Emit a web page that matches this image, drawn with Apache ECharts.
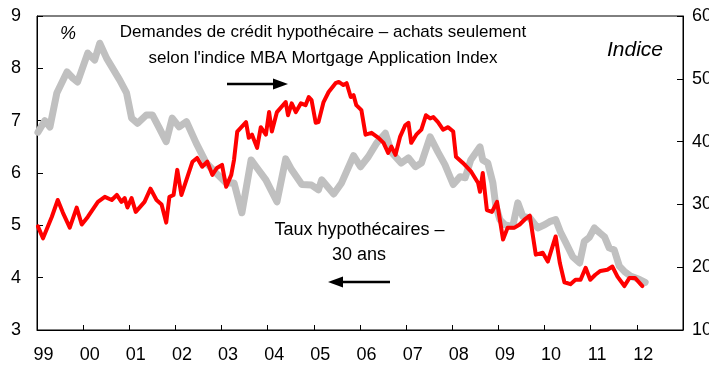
<!DOCTYPE html>
<html>
<head>
<meta charset="utf-8">
<script src="https://cdn.jsdelivr.net/npm/echarts@6/dist/echarts.min.js"></script>
<style>
  html, body { margin: 0; padding: 0; background: #fff; }
  #chart { width: 709px; height: 372px; }
</style>
</head>
<body>
<div id="chart"></div>
<script>
// 30-year mortgage rate (%), left axis — decimal years
const rateYears = [
  1999.02, 1999.17, 1999.28, 1999.43, 1999.65, 1999.78, 1999.88,
  2000.10, 2000.25, 2000.36, 2000.51, 2000.79, 2000.94,
  2001.05, 2001.18, 2001.37, 2001.50, 2001.65, 2001.80, 2001.93,
  2002.08, 2002.24, 2002.45, 2002.67, 2002.88,
  2003.10, 2003.27, 2003.44, 2003.64, 2003.75, 2003.96,
  2004.20, 2004.39, 2004.52, 2004.74, 2004.95,
  2005.10, 2005.17, 2005.43, 2005.60, 2005.86,
  2006.01, 2006.18, 2006.36, 2006.55, 2006.68, 2006.89,
  2007.05, 2007.20, 2007.33, 2007.52, 2007.69, 2007.84,
  2008.02, 2008.17, 2008.28, 2008.40, 2008.60, 2008.66, 2008.77, 2008.88, 2008.94,
  2009.03, 2009.14, 2009.31, 2009.42, 2009.53, 2009.68, 2009.85,
  2010.00, 2010.11, 2010.24, 2010.35, 2010.46, 2010.61, 2010.76, 2010.86, 2010.97,
  2011.08, 2011.19, 2011.30, 2011.40, 2011.51, 2011.62, 2011.73, 2011.86,
  2012.05, 2012.18
];
const rateValues = [
  6.78, 7.00, 6.88, 7.53, 7.93, 7.81, 7.74,
  8.29, 8.16, 8.48, 8.19, 7.78, 7.53,
  7.05, 6.95, 7.11, 7.11, 6.86, 6.60, 7.05,
  6.88, 6.98, 6.57, 6.19, 6.00,
  5.81, 5.81, 5.24, 6.25, 6.12, 5.87,
  5.45, 6.27, 6.06, 5.78, 5.77,
  5.68, 5.87, 5.60, 5.81, 6.33,
  6.12, 6.31, 6.57, 6.76, 6.40, 6.19,
  6.29, 6.12, 6.19, 6.69, 6.40, 6.16,
  5.78, 5.93, 5.91, 6.25, 6.50, 6.25, 6.19, 5.81, 5.39,
  5.11, 5.01, 4.98, 5.43, 5.17, 5.14, 4.95,
  5.01, 5.07, 5.11, 4.86, 4.67, 4.40, 4.28, 4.69, 4.77,
  4.95, 4.86, 4.78, 4.57, 4.53, 4.22, 4.12, 4.03,
  3.97, 3.91
];

// MBA purchase application index, right axis — decimal years
const indexYears = [
  1999.02, 1999.13, 1999.32, 1999.45, 1999.56, 1999.71, 1999.86, 1999.97,
  2000.10, 2000.32, 2000.47, 2000.62, 2000.73, 2000.83, 2000.90, 2000.96,
  2001.05, 2001.14, 2001.33, 2001.46, 2001.59, 2001.70, 2001.80, 2001.87, 2001.96,
  2002.04, 2002.13, 2002.26, 2002.37, 2002.47, 2002.58, 2002.69, 2002.80, 2002.90,
  2003.01, 2003.10, 2003.21, 2003.27, 2003.34, 2003.53, 2003.59, 2003.66, 2003.77, 2003.85, 2003.96,
  2004.03, 2004.09, 2004.20, 2004.39, 2004.44, 2004.52, 2004.61, 2004.72, 2004.82, 2004.89, 2004.95,
  2005.04, 2005.10, 2005.21, 2005.32, 2005.47, 2005.54, 2005.64, 2005.71, 2005.80, 2005.86, 2005.92,
  2006.03, 2006.12, 2006.25, 2006.40, 2006.51, 2006.61, 2006.68, 2006.77, 2006.87, 2006.98,
  2007.05, 2007.11, 2007.22, 2007.33, 2007.43, 2007.52, 2007.59, 2007.69, 2007.80, 2007.91,
  2008.02, 2008.08, 2008.23, 2008.41, 2008.56, 2008.60, 2008.66, 2008.75, 2008.86, 2008.97,
  2009.10, 2009.20, 2009.35, 2009.46, 2009.57, 2009.68, 2009.81, 2009.96,
  2010.07, 2010.24, 2010.33, 2010.43, 2010.56, 2010.67, 2010.78, 2010.89, 2010.99,
  2011.10, 2011.21, 2011.36, 2011.47, 2011.58, 2011.73, 2011.84, 2011.96,
  2012.12
];
const indexValues = [
  265, 246, 280, 307, 287, 263, 295, 268,
  280, 304, 312, 307, 315, 304, 310, 295,
  310, 288, 304, 325, 307, 300, 271, 312, 315,
  355, 315, 344, 368, 374, 360, 368, 347, 358,
  363, 328, 347, 371, 416, 431, 406, 411, 390, 423, 411,
  447, 416, 447, 463, 442, 461, 447, 461, 458, 471, 466,
  430, 431, 463, 479, 493, 495, 490, 493, 471, 474, 458,
  450, 411, 414, 406, 398, 382, 392, 379, 408, 426,
  430, 398, 411, 419, 442, 437, 439, 431, 419, 423,
  416, 376, 366, 352, 334, 320, 350, 291, 288, 304,
  244, 263, 263, 268, 276, 282, 220, 223,
  209, 249, 207, 176, 173, 180, 180, 199, 180,
  188, 194, 196, 201, 185, 170, 183, 183,
  170
];

// Axis ranges
const yearMin = 1999, yearMax = 2013;
const rateMin = 3, rateMax = 9;
const indexMin = 100, indexMax = 600;

const zip = (xs, ys) => xs.map((x, i) => [x, ys[i]]);

const FONT = '"Liberation Sans", Arial, sans-serif';
const chart = echarts.init(document.getElementById('chart'), null, { renderer: 'canvas' });

// Arrow helper: shaft + filled head, drawn as graphic elements
function arrow(x1, x2, y) {
  const dir = x2 > x1 ? 1 : -1;
  const headLen = 15, headHalf = 5.5;
  return [
    { type: 'line', shape: { x1: x1, y1: y, x2: x2 - dir * headLen, y2: y },
      style: { stroke: '#000', lineWidth: 2.5 } },
    { type: 'polygon', shape: { points: [[x2, y], [x2 - dir * headLen, y - headHalf], [x2 - dir * headLen, y + headHalf]] },
      style: { fill: '#000' } }
  ];
}

const option = {
  backgroundColor: '#fff',
  animation: false,
  grid: {
    left: 37, right: 26, top: 16, bottom: 42,
    outerBoundsMode: 'none', containLabel: false,
    show: true, borderColor: '#000', borderWidth: 1
  },
  xAxis: {
    type: 'value', min: yearMin, max: yearMax, interval: 1,
    axisLine: { show: true, lineStyle: { color: '#000', width: 1 } },
    axisTick: { show: true, inside: true, length: 5, lineStyle: { color: '#000' } },
    splitLine: { show: false },
    axisLabel: {
      fontFamily: FONT, fontSize: 18, color: '#000', margin: 16,
      padding: [0, 0, 0, 13], hideOverlap: false,
      formatter: v => (v >= yearMax ? '' : String(v % 100).padStart(2, '0'))
    }
  },
  yAxis: [
    {
      type: 'value', min: rateMin, max: rateMax, interval: 1, position: 'left',
      axisLine: { show: true, lineStyle: { color: '#000', width: 1 } },
      axisTick: { show: true, inside: true, length: 6, lineStyle: { color: '#000' } },
      splitLine: { show: false },
      axisLabel: { fontFamily: FONT, fontSize: 18, color: '#000', margin: 16 }
    },
    {
      type: 'value', min: indexMin, max: indexMax, interval: 100, position: 'right',
      axisLine: { show: true, lineStyle: { color: '#000', width: 1 } },
      axisTick: { show: true, inside: true, length: 6, lineStyle: { color: '#000' } },
      splitLine: { show: false },
      axisLabel: { fontFamily: FONT, fontSize: 18, color: '#000', margin: 9 }
    }
  ],
  series: [
    {
      name: 'Taux hypothécaires – 30 ans',
      type: 'line', yAxisIndex: 0, showSymbol: false, smooth: false,
      data: zip(rateYears, rateValues),
      lineStyle: { color: '#c0c0c0', width: 7, cap: 'round', join: 'round' },
      z: 2
    },
    {
      name: 'Demandes de crédit hypothécaire',
      type: 'line', yAxisIndex: 1, showSymbol: false, smooth: false,
      data: zip(indexYears, indexValues),
      lineStyle: { color: '#ff0000', width: 4, cap: 'round', join: 'round' },
      z: 3
    }
  ],
  graphic: [
    { type: 'text', left: 60, top: 25,
      style: { text: '%', font: 'italic 18px ' + FONT, fill: '#000' } },
    { type: 'text', x: 607, y: 50,
      style: { text: 'Indice', font: 'italic 21px ' + FONT, fill: '#000', verticalAlign: 'middle' } },
    { type: 'text', x: 323, y: 32,
      style: { text: 'Demandes de crédit hypothécaire – achats seulement', font: '17px ' + FONT,
               fill: '#000', align: 'center', verticalAlign: 'middle' } },
    { type: 'text', x: 323, y: 58,
      style: { text: "selon l'indice MBA Mortgage Application Index", font: '17px ' + FONT,
               fill: '#000', align: 'center', verticalAlign: 'middle' } },
    { type: 'text', x: 359.5, y: 230,
      style: { text: 'Taux hypothécaires –', font: '18px ' + FONT,
               fill: '#000', align: 'center', verticalAlign: 'middle' } },
    { type: 'text', x: 359, y: 255,
      style: { text: '30 ans', font: '18px ' + FONT,
               fill: '#000', align: 'center', verticalAlign: 'middle' } },
    ...arrow(227, 288, 84),
    ...arrow(390, 328, 282)
  ]
};

chart.setOption(option);
</script>
</body>
</html>
